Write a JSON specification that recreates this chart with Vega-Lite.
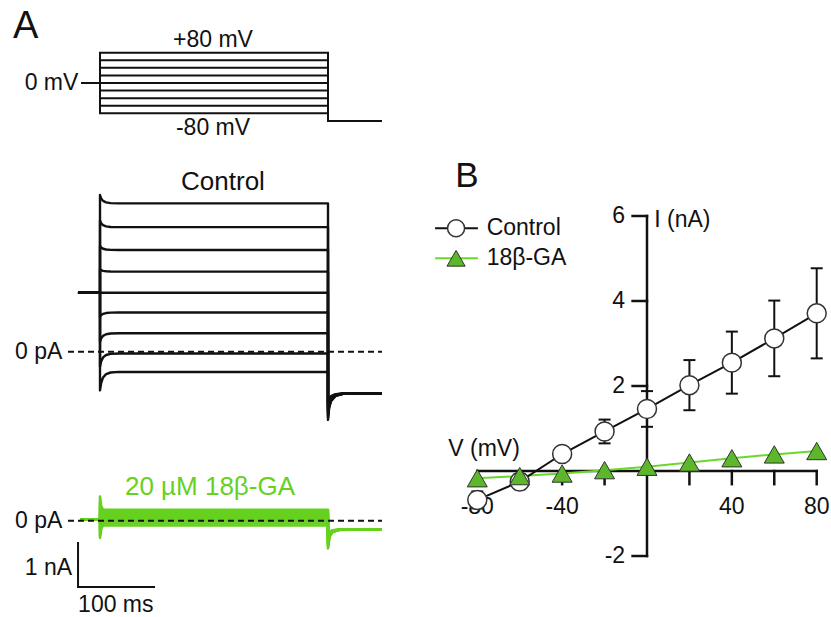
{
  "$schema": "https://vega.github.io/schema/vega-lite/v6.json",
  "width": 831,
  "height": 617,
  "padding": 0,
  "autosize": {"type": "none"},
  "background": "white",
  "config": {"font": "Liberation Sans", "view": {"stroke": null}},
  "datasets": {
    "proto": [
      {"k":80,"t":-24.1,"y":0},{"k":80,"t":0,"y":0},{"k":80,"t":0,"y":80},{"k":80,"t":300,"y":80},{"k":80,"t":300,"y":-100},{"k":80,"t":371,"y":-100},
      {"k":60,"t":-24.1,"y":0},{"k":60,"t":0,"y":0},{"k":60,"t":0,"y":60},{"k":60,"t":300,"y":60},{"k":60,"t":300,"y":-100},{"k":60,"t":371,"y":-100},
      {"k":40,"t":-24.1,"y":0},{"k":40,"t":0,"y":0},{"k":40,"t":0,"y":40},{"k":40,"t":300,"y":40},{"k":40,"t":300,"y":-100},{"k":40,"t":371,"y":-100},
      {"k":20,"t":-24.1,"y":0},{"k":20,"t":0,"y":0},{"k":20,"t":0,"y":20},{"k":20,"t":300,"y":20},{"k":20,"t":300,"y":-100},{"k":20,"t":371,"y":-100},
      {"k":0,"t":-24.1,"y":0},{"k":0,"t":0,"y":0},{"k":0,"t":300,"y":0},{"k":0,"t":300,"y":-100},{"k":0,"t":371,"y":-100},
      {"k":-20,"t":-24.1,"y":0},{"k":-20,"t":0,"y":0},{"k":-20,"t":0,"y":-20},{"k":-20,"t":300,"y":-20},{"k":-20,"t":300,"y":-100},{"k":-20,"t":371,"y":-100},
      {"k":-40,"t":-24.1,"y":0},{"k":-40,"t":0,"y":0},{"k":-40,"t":0,"y":-40},{"k":-40,"t":300,"y":-40},{"k":-40,"t":300,"y":-100},{"k":-40,"t":371,"y":-100},
      {"k":-60,"t":-24.1,"y":0},{"k":-60,"t":0,"y":0},{"k":-60,"t":0,"y":-60},{"k":-60,"t":300,"y":-60},{"k":-60,"t":300,"y":-100},{"k":-60,"t":371,"y":-100},
      {"k":-80,"t":-24.1,"y":0},{"k":-80,"t":0,"y":0},{"k":-80,"t":0,"y":-80},{"k":-80,"t":300,"y":-80},{"k":-80,"t":300,"y":-100},{"k":-80,"t":371,"y":-100}
    ],
    "ctrl": [
      {"k":80,"t":-29,"y":1.34},{"k":80,"t":0,"y":1.34},{"k":80,"t":0,"y":3.56},{"k":80,"t":1.5,"y":3.484},{"k":80,"t":4,"y":3.427},{"k":80,"t":8,"y":3.393},{"k":80,"t":14,"y":3.376},{"k":80,"t":25,"y":3.37},{"k":80,"t":300,"y":3.37},{"k":80,"t":300,"y":-1.55},{"k":80,"t":301.5,"y":-1.278},{"k":80,"t":304,"y":-1.127},{"k":80,"t":310,"y":-1.006},{"k":80,"t":320,"y":-0.957},{"k":80,"t":371,"y":-0.945},
      {"k":60,"t":-29,"y":1.34},{"k":60,"t":0,"y":1.34},{"k":60,"t":0,"y":2.98},{"k":60,"t":1.5,"y":2.92},{"k":60,"t":4,"y":2.875},{"k":60,"t":8,"y":2.848},{"k":60,"t":14,"y":2.835},{"k":60,"t":25,"y":2.83},{"k":60,"t":300,"y":2.83},{"k":60,"t":300,"y":-1.5},{"k":60,"t":301.5,"y":-1.25},{"k":60,"t":304,"y":-1.112},{"k":60,"t":310,"y":-1.001},{"k":60,"t":320,"y":-0.956},{"k":60,"t":371,"y":-0.945},
      {"k":40,"t":-29,"y":1.34},{"k":40,"t":0,"y":1.34},{"k":40,"t":0,"y":2.41},{"k":40,"t":1.5,"y":2.37},{"k":40,"t":4,"y":2.34},{"k":40,"t":8,"y":2.322},{"k":40,"t":14,"y":2.313},{"k":40,"t":25,"y":2.31},{"k":40,"t":300,"y":2.31},{"k":40,"t":300,"y":-1.45},{"k":40,"t":301.5,"y":-1.223},{"k":40,"t":304,"y":-1.097},{"k":40,"t":310,"y":-0.996},{"k":40,"t":320,"y":-0.955},{"k":40,"t":371,"y":-0.945},
      {"k":20,"t":-29,"y":1.34},{"k":20,"t":0,"y":1.34},{"k":20,"t":0,"y":1.88},{"k":20,"t":1.5,"y":1.856},{"k":20,"t":4,"y":1.838},{"k":20,"t":8,"y":1.827},{"k":20,"t":14,"y":1.822},{"k":20,"t":25,"y":1.82},{"k":20,"t":300,"y":1.82},{"k":20,"t":300,"y":-1.4},{"k":20,"t":301.5,"y":-1.195},{"k":20,"t":304,"y":-1.082},{"k":20,"t":310,"y":-0.991},{"k":20,"t":320,"y":-0.954},{"k":20,"t":371,"y":-0.945},
      {"k":0,"t":-29,"y":1.34},{"k":0,"t":0,"y":1.34},{"k":0,"t":25,"y":1.34},{"k":0,"t":300,"y":1.34},{"k":0,"t":300,"y":-1.35},{"k":0,"t":301.5,"y":-1.168},{"k":0,"t":304,"y":-1.067},{"k":0,"t":310,"y":-0.986},{"k":0,"t":320,"y":-0.953},{"k":0,"t":371,"y":-0.945},
      {"k":-20,"t":-29,"y":1.34},{"k":-20,"t":0,"y":1.34},{"k":-20,"t":0,"y":0.79},{"k":-20,"t":1.5,"y":0.83},{"k":-20,"t":4,"y":0.86},{"k":-20,"t":8,"y":0.878},{"k":-20,"t":14,"y":0.887},{"k":-20,"t":25,"y":0.89},{"k":-20,"t":300,"y":0.89},{"k":-20,"t":300,"y":-1.3},{"k":-20,"t":301.5,"y":-1.14},{"k":-20,"t":304,"y":-1.052},{"k":-20,"t":310,"y":-0.981},{"k":-20,"t":320,"y":-0.952},{"k":-20,"t":371,"y":-0.945},
      {"k":-40,"t":-29,"y":1.34},{"k":-40,"t":0,"y":1.34},{"k":-40,"t":0,"y":0.22},{"k":-40,"t":1.5,"y":0.3},{"k":-40,"t":4,"y":0.36},{"k":-40,"t":8,"y":0.396},{"k":-40,"t":14,"y":0.414},{"k":-40,"t":25,"y":0.42},{"k":-40,"t":300,"y":0.42},{"k":-40,"t":300,"y":-1.25},{"k":-40,"t":301.5,"y":-1.113},{"k":-40,"t":304,"y":-1.037},{"k":-40,"t":310,"y":-0.976},{"k":-40,"t":320,"y":-0.951},{"k":-40,"t":371,"y":-0.945},
      {"k":-60,"t":-29,"y":1.34},{"k":-60,"t":0,"y":1.34},{"k":-60,"t":0,"y":-0.34},{"k":-60,"t":1.5,"y":-0.22},{"k":-60,"t":4,"y":-0.13},{"k":-60,"t":8,"y":-0.076},{"k":-60,"t":14,"y":-0.049},{"k":-60,"t":25,"y":-0.04},{"k":-60,"t":300,"y":-0.04},{"k":-60,"t":300,"y":-1.2},{"k":-60,"t":301.5,"y":-1.085},{"k":-60,"t":304,"y":-1.022},{"k":-60,"t":310,"y":-0.971},{"k":-60,"t":320,"y":-0.95},{"k":-60,"t":371,"y":-0.945},
      {"k":-80,"t":-29,"y":1.34},{"k":-80,"t":0,"y":1.34},{"k":-80,"t":0,"y":-0.88},{"k":-80,"t":1.5,"y":-0.712},{"k":-80,"t":4,"y":-0.586},{"k":-80,"t":8,"y":-0.51},{"k":-80,"t":14,"y":-0.473},{"k":-80,"t":25,"y":-0.46},{"k":-80,"t":300,"y":-0.46},{"k":-80,"t":300,"y":-1.15},{"k":-80,"t":301.5,"y":-1.058},{"k":-80,"t":304,"y":-1.007},{"k":-80,"t":310,"y":-0.966},{"k":-80,"t":320,"y":-0.949},{"k":-80,"t":371,"y":-0.945}
    ],
    "ga": [
      {"k":80,"t":-26.3,"y":0.03},{"k":80,"t":0,"y":0.03},{"k":80,"t":0,"y":0.55},{"k":80,"t":1.5,"y":0.34},{"k":80,"t":3,"y":0.274},{"k":80,"t":5,"y":0.25},{"k":80,"t":300,"y":0.25},{"k":80,"t":300,"y":-0.63},{"k":80,"t":302,"y":-0.369},{"k":80,"t":306,"y":-0.26},{"k":80,"t":315,"y":-0.208},{"k":80,"t":371,"y":-0.195},
      {"k":60,"t":-26.3,"y":0.03},{"k":60,"t":0,"y":0.03},{"k":60,"t":0,"y":0.425},{"k":60,"t":1.5,"y":0.271},{"k":60,"t":3,"y":0.223},{"k":60,"t":5,"y":0.205},{"k":60,"t":300,"y":0.205},{"k":60,"t":300,"y":-0.595},{"k":60,"t":302,"y":-0.355},{"k":60,"t":306,"y":-0.255},{"k":60,"t":315,"y":-0.207},{"k":60,"t":371,"y":-0.195},
      {"k":40,"t":-26.3,"y":0.03},{"k":40,"t":0,"y":0.03},{"k":40,"t":0,"y":0.31},{"k":40,"t":1.5,"y":0.205},{"k":40,"t":3,"y":0.172},{"k":40,"t":5,"y":0.16},{"k":40,"t":300,"y":0.16},{"k":40,"t":300,"y":-0.56},{"k":40,"t":302,"y":-0.341},{"k":40,"t":306,"y":-0.25},{"k":40,"t":315,"y":-0.206},{"k":40,"t":371,"y":-0.195},
      {"k":20,"t":-26.3,"y":0.03},{"k":20,"t":0,"y":0.03},{"k":20,"t":0,"y":0.185},{"k":20,"t":1.5,"y":0.136},{"k":20,"t":3,"y":0.121},{"k":20,"t":5,"y":0.115},{"k":20,"t":300,"y":0.115},{"k":20,"t":300,"y":-0.525},{"k":20,"t":302,"y":-0.327},{"k":20,"t":306,"y":-0.245},{"k":20,"t":315,"y":-0.205},{"k":20,"t":371,"y":-0.195},
      {"k":0,"t":-26.3,"y":0.03},{"k":0,"t":0,"y":0.03},{"k":0,"t":0,"y":0.07},{"k":0,"t":5,"y":0.07},{"k":0,"t":300,"y":0.07},{"k":0,"t":300,"y":-0.49},{"k":0,"t":302,"y":-0.313},{"k":0,"t":306,"y":-0.239},{"k":0,"t":315,"y":-0.204},{"k":0,"t":371,"y":-0.195},
      {"k":-20,"t":-26.3,"y":0.03},{"k":-20,"t":0,"y":0.03},{"k":-20,"t":0,"y":-0.065},{"k":-20,"t":1.5,"y":-0.002},{"k":-20,"t":3,"y":0.018},{"k":-20,"t":5,"y":0.025},{"k":-20,"t":300,"y":0.025},{"k":-20,"t":300,"y":-0.455},{"k":-20,"t":302,"y":-0.299},{"k":-20,"t":306,"y":-0.234},{"k":-20,"t":315,"y":-0.203},{"k":-20,"t":371,"y":-0.195},
      {"k":-40,"t":-26.3,"y":0.03},{"k":-40,"t":0,"y":0.03},{"k":-40,"t":0,"y":-0.2},{"k":-40,"t":1.5,"y":-0.074},{"k":-40,"t":3,"y":-0.034},{"k":-40,"t":5,"y":-0.02},{"k":-40,"t":300,"y":-0.02},{"k":-40,"t":300,"y":-0.42},{"k":-40,"t":302,"y":-0.285},{"k":-40,"t":306,"y":-0.229},{"k":-40,"t":315,"y":-0.202},{"k":-40,"t":371,"y":-0.195},
      {"k":-60,"t":-26.3,"y":0.03},{"k":-60,"t":0,"y":0.03},{"k":-60,"t":0,"y":-0.335},{"k":-60,"t":1.5,"y":-0.146},{"k":-60,"t":3,"y":-0.087},{"k":-60,"t":5,"y":-0.065},{"k":-60,"t":300,"y":-0.065},{"k":-60,"t":300,"y":-0.385},{"k":-60,"t":302,"y":-0.271},{"k":-60,"t":306,"y":-0.224},{"k":-60,"t":315,"y":-0.201},{"k":-60,"t":371,"y":-0.195},
      {"k":-80,"t":-26.3,"y":0.03},{"k":-80,"t":0,"y":0.03},{"k":-80,"t":0,"y":-0.39},{"k":-80,"t":1.5,"y":-0.194},{"k":-80,"t":3,"y":-0.132},{"k":-80,"t":5,"y":-0.11},{"k":-80,"t":300,"y":-0.11},{"k":-80,"t":300,"y":-0.35},{"k":-80,"t":302,"y":-0.257},{"k":-80,"t":306,"y":-0.218},{"k":-80,"t":315,"y":-0.2},{"k":-80,"t":371,"y":-0.195}
    ],
    "ivControl": [
      {"x":-80,"y":-0.68,"lo":-0.88,"hi":-0.48},
      {"x":-60,"y":-0.25,"lo":-0.43,"hi":-0.07},
      {"x":-40,"y":0.4,"lo":0.25,"hi":0.55},
      {"x":-20,"y":0.93,"lo":0.65,"hi":1.21},
      {"x":0,"y":1.46,"lo":1.04,"hi":1.88},
      {"x":20,"y":2.02,"lo":1.43,"hi":2.61},
      {"x":40,"y":2.55,"lo":1.82,"hi":3.28},
      {"x":60,"y":3.12,"lo":2.23,"hi":4.01},
      {"x":80,"y":3.71,"lo":2.65,"hi":4.77}
    ],
    "ivGA": [
      {"x":-80,"y":-0.17},{"x":-60,"y":-0.12},{"x":-40,"y":-0.06},{"x":-20,"y":0.02},{"x":0,"y":0.1},
      {"x":20,"y":0.2},{"x":40,"y":0.3},{"x":60,"y":0.39},{"x":80,"y":0.47}
    ]
  },
  "layer": [
    {
      "encoding": {
        "x": {"field": "t", "type": "quantitative", "scale": {"domain": [-131.58, 961.84], "nice": false, "zero": false}, "axis": null},
        "y": {"field": "y", "type": "quantitative", "scale": {"domain": [-1409, 219], "nice": false, "zero": false}, "axis": null}
      },
      "layer": [
        {
          "data": {"name": "proto"},
          "mark": {"type": "line", "stroke": "#111111", "strokeWidth": 2, "strokeJoin": "miter"},
          "encoding": {"detail": {"field": "k"}, "order": {"value": null}}
        },
        {
          "data": {"values": [{"t": -114.5, "y": 120, "label": "A"}]},
          "mark": {"type": "text", "align": "left", "baseline": "alphabetic", "fontSize": 38, "color": "#111111"},
          "encoding": {"text": {"field": "label"}}
        },
        {
          "data": {"values": [{"t": 148.7, "y": 113.5, "label": "+80 mV"}, {"t": 148.7, "y": -118.7, "label": "-80 mV"}]},
          "mark": {"type": "text", "align": "center", "baseline": "middle", "fontSize": 23, "color": "#111111"},
          "encoding": {"text": {"field": "label"}}
        },
        {
          "data": {"values": [{"t": -28.5, "y": 0, "label": "0 mV"}]},
          "mark": {"type": "text", "align": "right", "baseline": "middle", "fontSize": 23, "color": "#111111"},
          "encoding": {"text": {"field": "label"}}
        }
      ]
    },
    {
      "encoding": {
        "x": {"field": "t", "type": "quantitative", "scale": {"domain": [-131.58, 961.84], "nice": false, "zero": false}, "axis": null},
        "y": {"field": "y", "type": "quantitative", "scale": {"domain": [-6.03, 7.993], "nice": false, "zero": false}, "axis": null}
      },
      "layer": [
        {
          "data": {"name": "ctrl"},
          "mark": {"type": "line", "stroke": "#111111", "strokeWidth": 2.4, "strokeJoin": "round"},
          "encoding": {"detail": {"field": "k"}, "order": {"value": null}}
        },
        {
          "data": {"values": [{"t": -42.1, "t2": 371, "y": 0}]},
          "mark": {"type": "rule", "stroke": "#111111", "strokeWidth": 2, "strokeDash": [6, 4]},
          "encoding": {"x2": {"field": "t2"}}
        },
        {
          "data": {"values": [{"t": 161.8, "y": 3.857, "label": "Control"}]},
          "mark": {"type": "text", "align": "center", "baseline": "middle", "fontSize": 26, "color": "#111111"},
          "encoding": {"text": {"field": "label"}}
        },
        {
          "data": {"values": [{"t": -49.5, "y": 0, "label": "0 pA"}]},
          "mark": {"type": "text", "align": "right", "baseline": "middle", "fontSize": 23, "color": "#111111"},
          "encoding": {"text": {"field": "label"}}
        }
      ]
    },
    {
      "encoding": {
        "x": {"field": "t", "type": "quantitative", "scale": {"domain": [-131.58, 961.84], "nice": false, "zero": false}, "axis": null},
        "y": {"field": "y", "type": "quantitative", "scale": {"domain": [-2.189, 11.834], "nice": false, "zero": false}, "axis": null}
      },
      "layer": [
        {
          "data": {"name": "ga"},
          "mark": {"type": "line", "stroke": "#66d11f", "strokeWidth": 2.6, "strokeJoin": "round"},
          "encoding": {"detail": {"field": "k"}, "order": {"value": null}}
        },
        {
          "data": {"values": [{"t": -42.1, "t2": 371, "y": 0}]},
          "mark": {"type": "rule", "stroke": "#111111", "strokeWidth": 2, "strokeDash": [6, 4]},
          "encoding": {"x2": {"field": "t2"}}
        },
        {
          "data": {"values": [
            {"t": -28.9, "t2": -28.9, "y": -0.507, "y2": -1.507},
            {"t": -28.9, "t2": 71.1, "y": -1.507, "y2": -1.507}
          ]},
          "mark": {"type": "rule", "stroke": "#111111", "strokeWidth": 2, "strokeCap": "square"},
          "encoding": {"x2": {"field": "t2"}, "y2": {"field": "y2"}}
        },
        {
          "data": {"values": [{"t": 144.7, "y": 0.766, "label": "20 µM 18β-GA"}]},
          "mark": {"type": "text", "align": "center", "baseline": "middle", "fontSize": 26, "color": "#66d11f"},
          "encoding": {"text": {"field": "label"}}
        },
        {
          "data": {"values": [{"t": -49.5, "y": 0, "label": "0 pA"}, {"t": -36.8, "y": -1.075, "label": "1 nA"}]},
          "mark": {"type": "text", "align": "right", "baseline": "middle", "fontSize": 23, "color": "#111111"},
          "encoding": {"text": {"field": "label"}}
        },
        {
          "data": {"values": [{"t": 20.8, "y": -1.916, "label": "100 ms"}]},
          "mark": {"type": "text", "align": "center", "baseline": "middle", "fontSize": 23, "color": "#111111"},
          "encoding": {"text": {"field": "label"}}
        }
      ]
    },
    {
      "encoding": {
        "x": {"field": "x", "type": "quantitative", "scale": {"domain": [-305.0, 86.74], "nice": false, "zero": false}, "axis": null},
        "y": {"field": "y", "type": "quantitative", "scale": {"domain": [-3.435, 11.082], "nice": false, "zero": false}, "axis": null}
      },
      "layer": [
        {
          "data": {"values": [
            {"x": -80, "x2": 80, "y": 0, "y2": 0},
            {"x": 0, "x2": 0, "y": -2, "y2": 6},
            {"x": -6.8, "x2": 0, "y": 6, "y2": 6},
            {"x": -6.8, "x2": 0, "y": 4, "y2": 4},
            {"x": -6.8, "x2": 0, "y": 2, "y2": 2},
            {"x": -6.8, "x2": 0, "y": -2, "y2": -2},
            {"x": -80, "x2": -80, "y": 0, "y2": -0.31},
            {"x": -60, "x2": -60, "y": 0, "y2": -0.31},
            {"x": -40, "x2": -40, "y": 0, "y2": -0.31},
            {"x": -20, "x2": -20, "y": 0, "y2": -0.31},
            {"x": 20, "x2": 20, "y": 0, "y2": -0.31},
            {"x": 40, "x2": 40, "y": 0, "y2": -0.31},
            {"x": 60, "x2": 60, "y": 0, "y2": -0.31},
            {"x": 80, "x2": 80, "y": 0, "y2": -0.31}
          ]},
          "mark": {"type": "rule", "stroke": "#111111", "strokeWidth": 2.5, "strokeCap": "square"},
          "encoding": {"x2": {"field": "x2"}, "y2": {"field": "y2"}}
        },
        {
          "data": {"values": [
            {"x": -10.3, "y": 6, "label": "6"}, {"x": -10.3, "y": 4, "label": "4"},
            {"x": -10.3, "y": 2, "label": "2"}, {"x": -10.3, "y": -2, "label": "-2"}
          ]},
          "mark": {"type": "text", "align": "right", "baseline": "middle", "fontSize": 23, "color": "#111111"},
          "encoding": {"text": {"field": "label"}}
        },
        {
          "data": {"values": [
            {"x": -80, "y": -0.84, "label": "-80"}, {"x": -40, "y": -0.84, "label": "-40"},
            {"x": 40, "y": -0.84, "label": "40"}, {"x": 80, "y": -0.84, "label": "80"},
            {"x": -76.8, "y": 0.52, "label": "V (mV)"}
          ]},
          "mark": {"type": "text", "align": "center", "baseline": "middle", "fontSize": 23, "color": "#111111"},
          "encoding": {"text": {"field": "label"}}
        },
        {
          "data": {"values": [
            {"x": 3.4, "y": 5.906, "label": "I (nA)"},
            {"x": -75.6, "y": 5.711, "label": "Control"},
            {"x": -75.6, "y": 5.005, "label": "18β-GA"}
          ]},
          "mark": {"type": "text", "align": "left", "baseline": "middle", "fontSize": 23, "color": "#111111"},
          "encoding": {"text": {"field": "label"}}
        },
        {
          "data": {"values": [{"x": -90.4, "y": 6.68, "label": "B"}]},
          "mark": {"type": "text", "align": "left", "baseline": "alphabetic", "fontSize": 35, "color": "#111111"},
          "encoding": {"text": {"field": "label"}}
        },
        {
          "data": {"values": [{"x": -99.9, "x2": -79.7, "y": 5.711}]},
          "mark": {"type": "rule", "stroke": "#111111", "strokeWidth": 2},
          "encoding": {"x2": {"field": "x2"}}
        },
        {
          "data": {"values": [{"x": -99.9, "x2": -79.7, "y": 5.005}]},
          "mark": {"type": "rule", "stroke": "#6ad82a", "strokeWidth": 2},
          "encoding": {"x2": {"field": "x2"}}
        },
        {
          "data": {"name": "ivGA"},
          "mark": {"type": "line", "stroke": "#6ad82a", "strokeWidth": 2}
        },
        {
          "data": {"name": "ivControl"},
          "mark": {"type": "line", "stroke": "#111111", "strokeWidth": 2}
        },
        {
          "data": {"name": "ivControl"},
          "mark": {"type": "rule", "stroke": "#111111", "strokeWidth": 2},
          "encoding": {"y": {"field": "lo", "type": "quantitative"}, "y2": {"field": "hi"}}
        },
        {
          "data": {"name": "ivControl"},
          "mark": {"type": "tick", "orient": "horizontal", "color": "#111111", "size": 12, "thickness": 2, "opacity": 1},
          "encoding": {"y": {"field": "lo", "type": "quantitative"}}
        },
        {
          "data": {"name": "ivControl"},
          "mark": {"type": "tick", "orient": "horizontal", "color": "#111111", "size": 12, "thickness": 2, "opacity": 1},
          "encoding": {"y": {"field": "hi", "type": "quantitative"}}
        },
        {
          "data": {"name": "ivControl"},
          "mark": {"type": "point", "shape": "circle", "filled": true, "fill": "white", "stroke": "#333333", "strokeWidth": 1.5, "size": 360, "opacity": 1}
        },
        {
          "data": {"values": [{"x": -90.0, "y": 5.711}]},
          "mark": {"type": "point", "shape": "circle", "filled": true, "fill": "white", "stroke": "#333333", "strokeWidth": 1.5, "size": 290, "opacity": 1}
        },
        {
          "data": {"name": "ivGA"},
          "mark": {"type": "point", "shape": "triangle-up", "filled": true, "fill": "#5cb82a", "stroke": "#333333", "strokeWidth": 1, "size": 400, "opacity": 1}
        },
        {
          "data": {"values": [{"x": -90.0, "y": 5.005}]},
          "mark": {"type": "point", "shape": "triangle-up", "filled": true, "fill": "#5cb82a", "stroke": "#333333", "strokeWidth": 1, "size": 330, "opacity": 1}
        }
      ]
    }
  ],
  "resolve": {"scale": {"x": "independent", "y": "independent"}}
}
